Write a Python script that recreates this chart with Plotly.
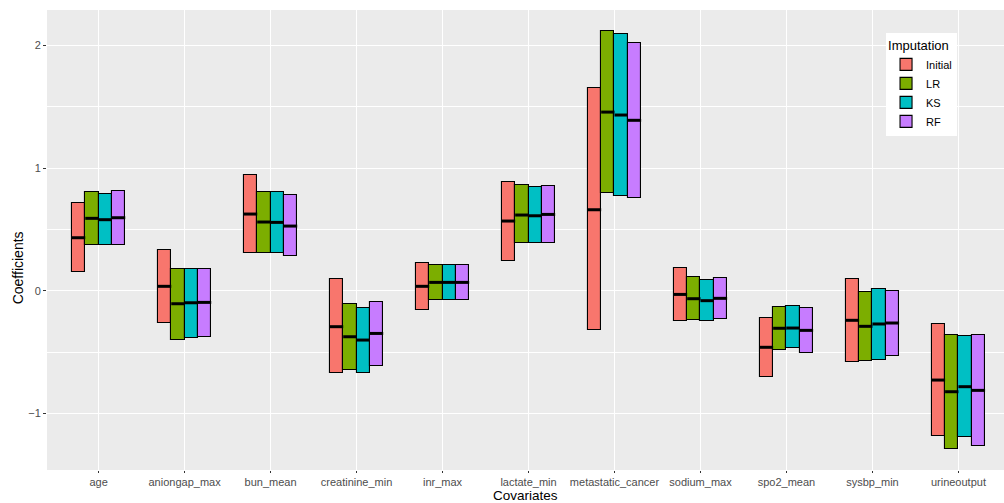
import plotly.graph_objects as go

covariates = ["age", "aniongap_max", "bun_mean", "creatinine_min", "inr_max",
              "lactate_min", "metastatic_cancer", "sodium_max", "spo2_mean",
              "sysbp_min", "urineoutput"]
methods = ["Initial", "LR", "KS", "RF"]
colors = ["#F8766D", "#7CAE00", "#00BFC4", "#C77CFF"]

# lower, middle, upper per method (same order as covariates)
initial_lower = [0.150, -0.263, 0.310, -0.671, -0.160, 0.245, -0.323, -0.247, -0.703, -0.584, -1.187]
initial_mid   = [0.432, 0.036, 0.625, -0.293, 0.036, 0.568, 0.660, -0.030, -0.461, -0.241, -0.728]
initial_upper = [0.717, 0.332, 0.945, 0.093, 0.228, 0.888, 1.650, 0.182, -0.220, 0.095, -0.269]

lr_lower = [0.372, -0.402, 0.305, -0.644, -0.078, 0.386, 0.796, -0.241, -0.483, -0.573, -1.293]
lr_mid   = [0.590, -0.106, 0.560, -0.375, 0.068, 0.617, 1.456, -0.065, -0.306, -0.290, -0.823]
lr_upper = [0.804, 0.179, 0.804, -0.106, 0.212, 0.861, 2.117, 0.109, -0.130, -0.013, -0.359]

ks_lower = [0.372, -0.383, 0.305, -0.671, -0.078, 0.386, 0.769, -0.247, -0.467, -0.562, -1.195]
ks_mid   = [0.579, -0.098, 0.557, -0.402, 0.068, 0.611, 1.432, -0.081, -0.304, -0.271, -0.782]
ks_upper = [0.786, 0.179, 0.804, -0.144, 0.212, 0.845, 2.090, 0.087, -0.122, 0.016, -0.372]

rf_lower = [0.372, -0.380, 0.280, -0.611, -0.078, 0.386, 0.753, -0.228, -0.508, -0.535, -1.266]
rf_mid   = [0.595, -0.095, 0.527, -0.348, 0.068, 0.622, 1.389, -0.062, -0.323, -0.263, -0.812]
rf_upper = [0.815, 0.179, 0.780, -0.090, 0.212, 0.856, 2.019, 0.106, -0.144, 0.000, -0.359]

lowers = [initial_lower, lr_lower, ks_lower, rf_lower]
mids = [initial_mid, lr_mid, ks_mid, rf_mid]
uppers = [initial_upper, lr_upper, ks_upper, rf_upper]

bw = 0.155
fig = go.Figure()
positions = list(range(1, len(covariates) + 1))
for j, m in enumerate(methods):
    off = (j - 1.5) * bw
    xs = [p + off for p in positions]
    fig.add_trace(go.Bar(
        x=xs, base=lowers[j],
        y=[u - l for u, l in zip(uppers[j], lowers[j])],
        width=bw, name=m,
        marker=dict(color=colors[j], line=dict(color="black", width=1.1)),
        showlegend=True,
    ))
for j, m in enumerate(methods):
    off = (j - 1.5) * bw
    lx, ly = [], []
    for p, md in zip(positions, mids[j]):
        lx += [p + off - bw / 2, p + off + bw / 2, None]
        ly += [md, md, None]
    fig.add_trace(go.Scatter(x=lx, y=ly, mode="lines",
                             line=dict(color="black", width=3),
                             showlegend=False, hoverinfo="skip"))

fig.update_layout(
    width=1004, height=503,
    margin=dict(l=46.7, r=0, t=10, b=33),
    paper_bgcolor="white", plot_bgcolor="#EBEBEB",
    barmode="overlay", bargap=0,
    font=dict(family="Liberation Sans, Arial, sans-serif", color="#4D4D4D", size=11),
    legend=dict(x=(886 - 46.7) / 957.3, y=1 - (33 - 10) / 460, xanchor="left", yanchor="top",
                bgcolor="white", borderwidth=0,
                title=dict(text="Imputation", font=dict(size=13, color="black")),
                font=dict(size=11, color="black"),
                tracegroupgap=0, itemwidth=30),
    annotations=[
        dict(text="Covariates", xref="paper", yref="paper", x=0.5, y=(470 - 496) / 460,
             xanchor="center", yanchor="middle", showarrow=False,
             font=dict(size=13.5, color="black")),
        dict(text="Coefficients", xref="paper", yref="paper", x=(18 - 46.7) / 957.3, y=(470 - 268) / 460,
             xanchor="center", yanchor="middle", showarrow=False, textangle=-90,
             font=dict(size=14, color="black")),
    ],
)
fig.update_xaxes(
    range=[0.4, 11.53], tickmode="array", tickvals=positions, ticktext=covariates,
    showgrid=True, gridcolor="white", gridwidth=1.1, zeroline=False,
    ticks="outside", ticklen=2, tickcolor="#333333", tickwidth=1,
    tickfont=dict(size=11, color="#4D4D4D"),
)
fig.update_yaxes(
    range=[-1.461, 2.288], tickvals=[-1, 0, 1, 2], ticktext=["\u22121", "0", "1", "2"],
    showgrid=True, gridcolor="white", gridwidth=1.1, zeroline=False,
    minor=dict(tickvals=[-1.5, -0.5, 0.5, 1.5], showgrid=True, gridcolor="white", gridwidth=0.55),
    ticks="outside", ticklen=3, tickcolor="#333333", tickwidth=1,
    tickfont=dict(size=11, color="#4D4D4D"),
)
fig.write_html("out.html")
